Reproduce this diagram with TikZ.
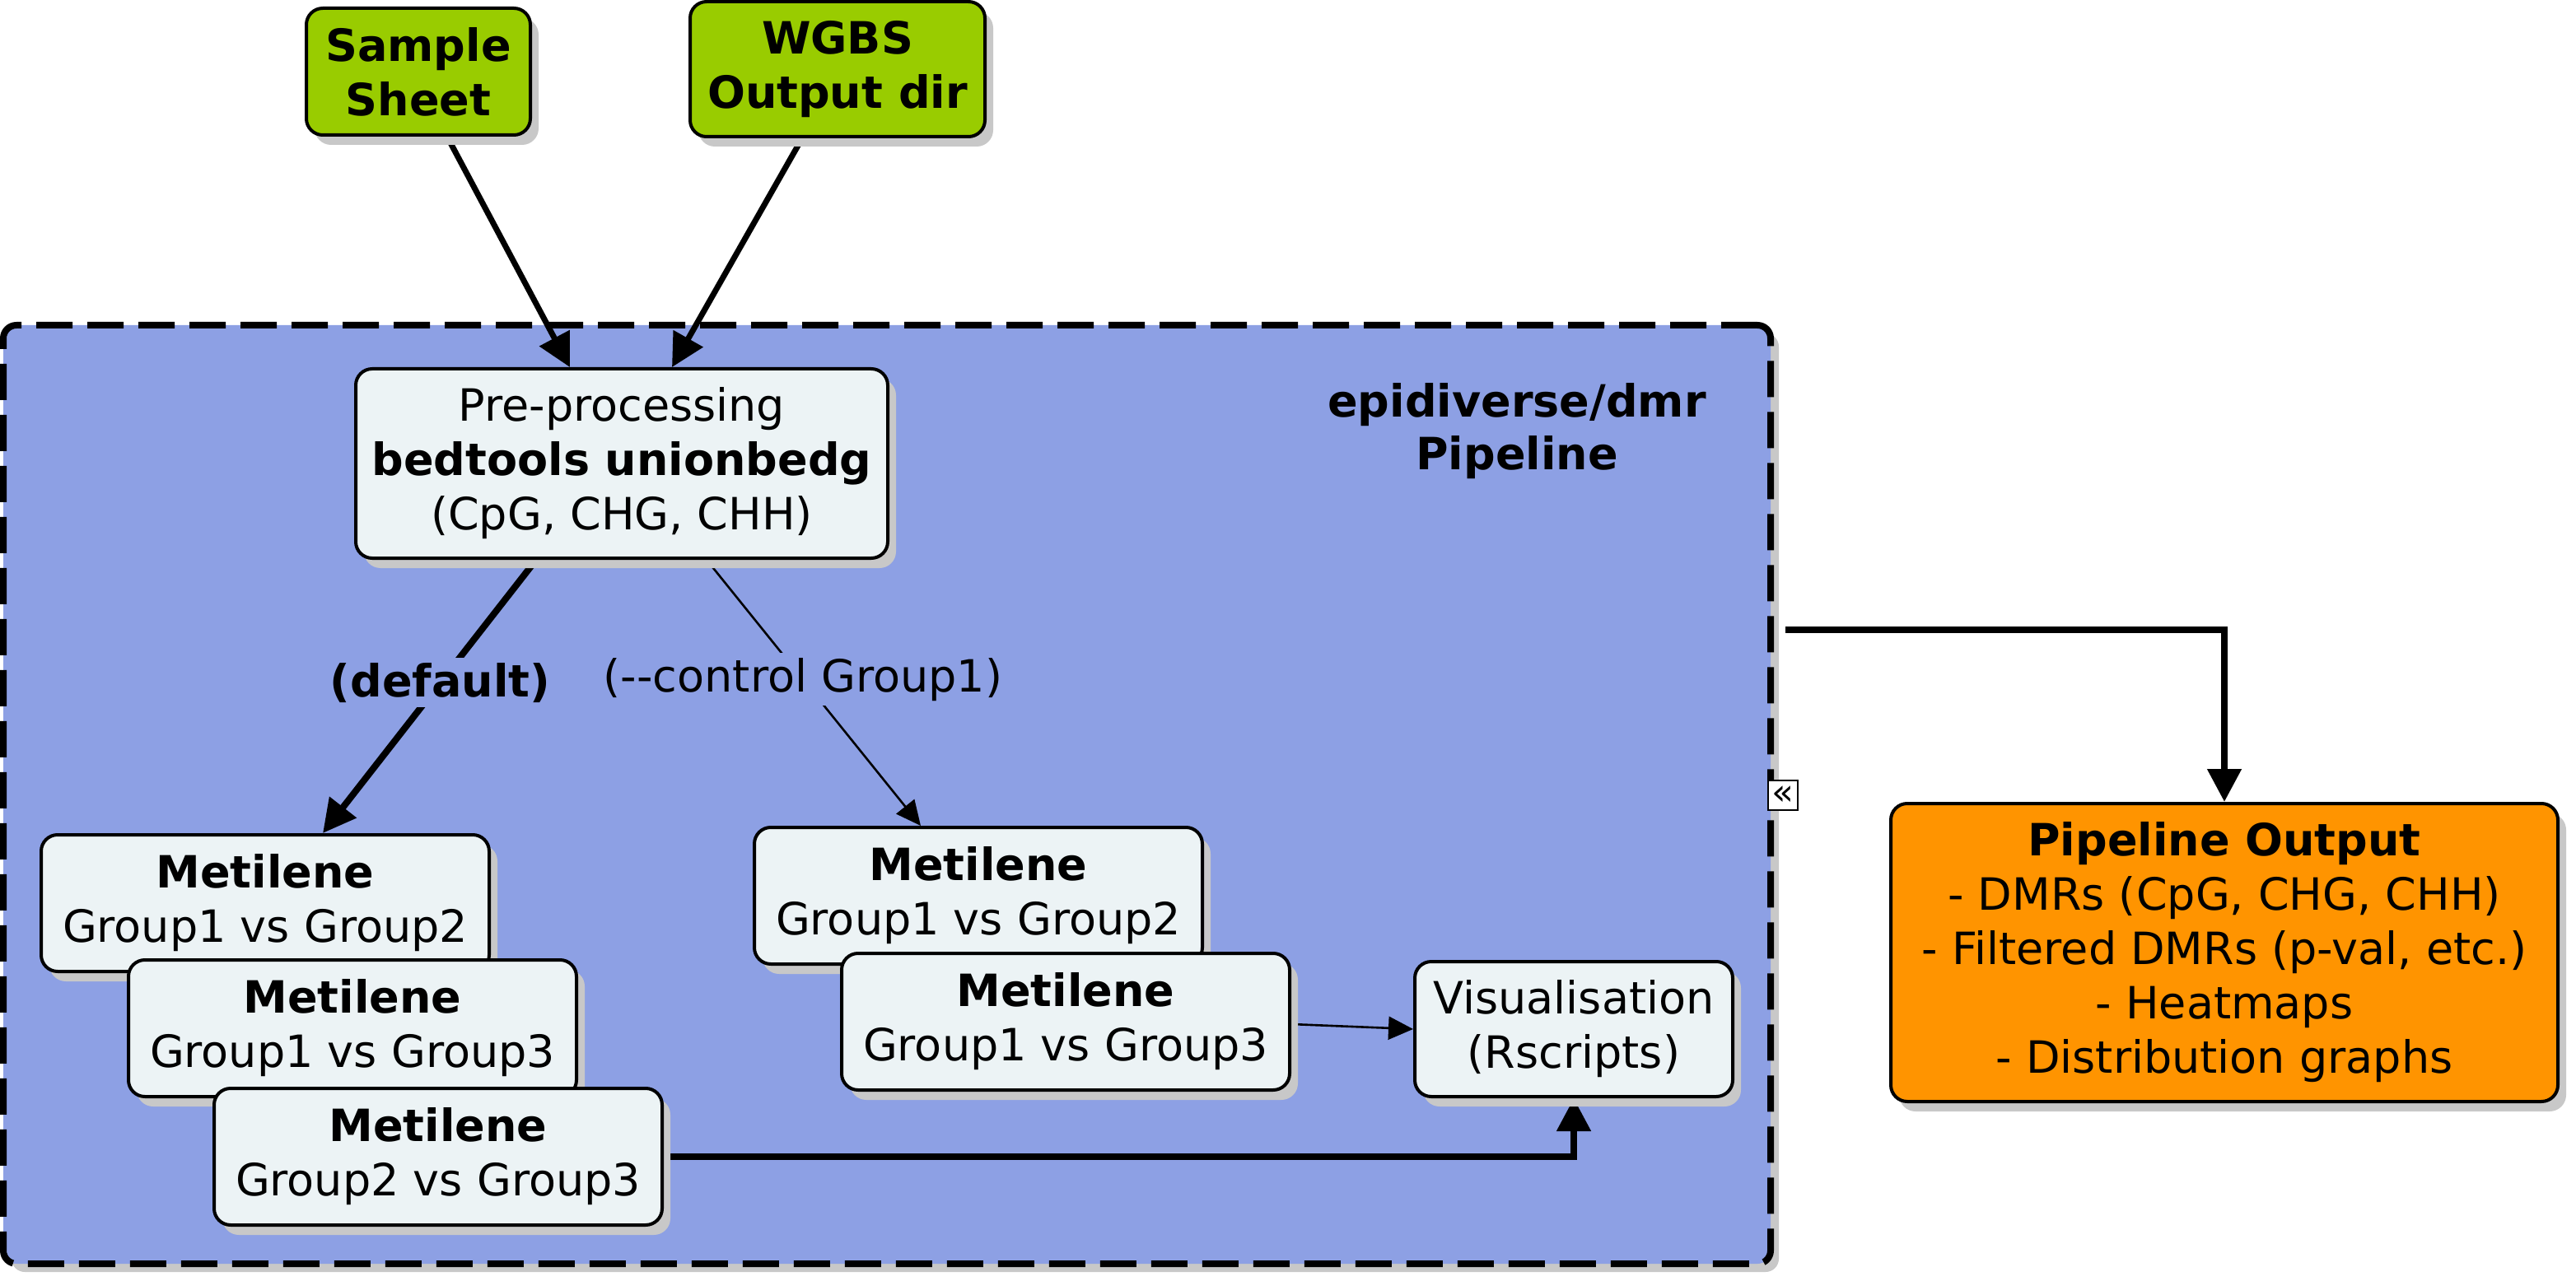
\documentclass[tikz,border=0pt]{standalone}
\usepackage{fontspec}
\setmainfont{DejaVu Sans}
\usetikzlibrary{shadows,arrows.meta,calc}
\definecolor{grn}{HTML}{99CC00}
\definecolor{grp}{RGB}{141,160,228}
\definecolor{boxf}{RGB}{236,243,245}
\definecolor{orng}{HTML}{FF9400}
\definecolor{shd}{RGB}{200,200,200}
\pgfdeclarelayer{bg}
\pgfdeclarelayer{mid}
\pgfsetlayers{bg,mid,main}
\begin{document}
\begin{tikzpicture}[x=1pt,y=-1pt,
  font=\fontsize{27}{33}\selectfont,
  sh/.style={drop shadow={shadow xshift=5pt,shadow yshift=-6pt,fill=shd,opacity=1}},
  base/.style={draw=black,line width=2pt,rounded corners=10pt,align=center,inner sep=0pt,sh},
  pbox/.style={base,fill=boxf,minimum width=272pt,minimum height=83pt},
  inbox/.style={base,fill=grn,font=\fontsize{27}{33}\selectfont\bfseries},
  lab/.style={fill=grp,inner sep=3pt},
  thickc/.style={line width=4pt,-{Triangle[length=20pt,width=20pt]}},
  thinc/.style={line width=1.3pt,-{Triangle[length=15pt,width=14pt]}},
  ]
\useasboundingbox (0,0) rectangle (1564,778);

% container
\begin{pgfonlayer}{bg}
\node[draw=black,fill=grp,line width=4pt,dash pattern=on 22pt off 9pt,
      rounded corners=8pt,minimum width=1073pt,minimum height=570pt,inner sep=0pt,
      drop shadow={shadow xshift=5pt,shadow yshift=-5pt,fill=shd,opacity=1}]
  (cont) at (538.5,482.5) {};
\end{pgfonlayer}

\node[font=\fontsize{27}{32}\selectfont\bfseries,align=center] (title) at (921,262) {epidiverse/dmr\\Pipeline};

% inputs
\node[inbox,minimum width=136pt,minimum height=77pt] (ss) at (254,43.5) {Sample\\Sheet};
\node[inbox,minimum width=179pt,minimum height=82pt] (wgbs) at (508.5,42) {WGBS\\Output dir};

% preprocessing
\node[base,fill=boxf,minimum width=323pt,minimum height=115pt] (pre) at (377.5,281.5)
  {Pre-processing\\\textbf{bedtools unionbedg}\\(CpG, CHG, CHH)};

% left stack
\node[pbox] (L1) at (161,548.5) {\textbf{Metilene}\\Group1 vs Group2};
\node[pbox] (L2) at (214,624.5) {\textbf{Metilene}\\Group1 vs Group3};
\node[pbox] (L3) at (266,702.5) {\textbf{Metilene}\\Group2 vs Group3};

% right stack
\node[pbox] (R1) at (594,544) {\textbf{Metilene}\\Group1 vs Group2};
\node[pbox] (R2) at (647,620.5) {\textbf{Metilene}\\Group1 vs Group3};

% visualisation
\node[base,fill=boxf,minimum width=193pt,minimum height=82pt] (vis) at (955.5,625)
  {Visualisation\\(Rscripts)};

% output
\node[base,fill=orng,minimum width=405pt,minimum height=181pt] (out) at (1350.5,578.5)
  {\textbf{Pipeline Output}\\- DMRs (CpG, CHG, CHH)\\- Filtered DMRs (p-val, etc.)\\- Heatmaps\\- Distribution graphs};

% collapse icon
\node[draw=black,line width=1pt,fill=white,minimum width=18pt,minimum height=18pt,
      inner sep=0pt,font=\fontsize{22}{22}\selectfont] (icon) at (1082.6,483) {«};

% connectors
\begin{pgfonlayer}{mid}
\draw[line width=3.5pt,-{Triangle[length=20pt,width=20pt]}] ([xshift=17.5pt]ss.south) -- ([xshift=-31.5pt]pre.north);
\draw[line width=3.5pt,-{Triangle[length=20pt,width=20pt]}] ([xshift=-21.5pt]wgbs.south) -- ([xshift=30.5pt]pre.north);
\draw[thickc] ([xshift=-52pt]pre.south) -- node[lab,pos=0.45,font=\fontsize{27}{33}\selectfont\bfseries] (ldef) {(default)} ([xshift=35pt]L1.north);
\draw[thinc] ([xshift=51.5pt]pre.south) -- node[lab,pos=0.45] (lctl) {(-{}-control Group1)} ([xshift=-35pt]R1.north);
\draw[thinc] ([yshift=-1.5pt]R2.east) -- (vis.west);
\draw[thickc] (L3.east) -| (vis.south);
\draw[thickc] ([xshift=7pt,yshift=100pt]cont.east) -| (out.north);
\end{pgfonlayer}
\end{tikzpicture}
\end{document}
